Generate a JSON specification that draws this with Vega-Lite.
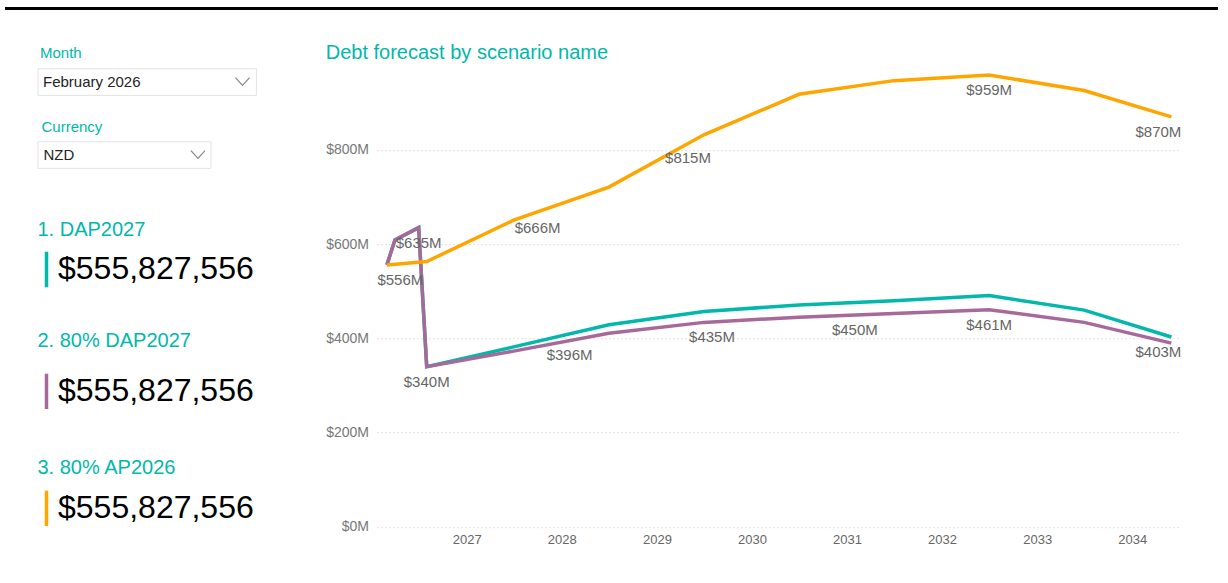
{
  "$schema": "https://vega.github.io/schema/vega-lite/v6.json",
  "padding": {"left": 5, "top": 7, "right": 5, "bottom": 5},
  "background": "white",
  "config": {
    "view": {"stroke": null},
    "font": "Liberation Sans",
    "title": {"fontWeight": "normal", "anchor": "start", "frame": "group"},
    "axis": {"minExtent": 0}
  },
  "datasets": {
    "blank": [{}],
    "lines": [
      {"series": "1. DAP2027", "date": "2026-02-28", "value": 556},
      {"series": "1. DAP2027", "date": "2026-03-31", "value": 609},
      {"series": "1. DAP2027", "date": "2026-06-30", "value": 635},
      {"series": "1. DAP2027", "date": "2026-07-31", "value": 340},
      {"series": "1. DAP2027", "date": "2027-06-30", "value": 382},
      {"series": "1. DAP2027", "date": "2028-06-30", "value": 429},
      {"series": "1. DAP2027", "date": "2029-06-30", "value": 457},
      {"series": "1. DAP2027", "date": "2030-06-30", "value": 471},
      {"series": "1. DAP2027", "date": "2031-06-30", "value": 480},
      {"series": "1. DAP2027", "date": "2032-06-30", "value": 491},
      {"series": "1. DAP2027", "date": "2033-06-30", "value": 460},
      {"series": "1. DAP2027", "date": "2034-05-31", "value": 403},
      {"series": "2. 80% DAP2027", "date": "2026-02-28", "value": 556},
      {"series": "2. 80% DAP2027", "date": "2026-03-31", "value": 609},
      {"series": "2. 80% DAP2027", "date": "2026-06-30", "value": 635},
      {"series": "2. 80% DAP2027", "date": "2026-07-31", "value": 340},
      {"series": "2. 80% DAP2027", "date": "2027-06-30", "value": 373},
      {"series": "2. 80% DAP2027", "date": "2028-06-30", "value": 411},
      {"series": "2. 80% DAP2027", "date": "2029-06-30", "value": 434},
      {"series": "2. 80% DAP2027", "date": "2030-06-30", "value": 445},
      {"series": "2. 80% DAP2027", "date": "2031-06-30", "value": 453},
      {"series": "2. 80% DAP2027", "date": "2032-06-30", "value": 461},
      {"series": "2. 80% DAP2027", "date": "2033-06-30", "value": 434},
      {"series": "2. 80% DAP2027", "date": "2034-05-31", "value": 390},
      {"series": "3. 80% AP2026", "date": "2026-02-28", "value": 556},
      {"series": "3. 80% AP2026", "date": "2026-07-31", "value": 563},
      {"series": "3. 80% AP2026", "date": "2027-06-30", "value": 651},
      {"series": "3. 80% AP2026", "date": "2028-06-30", "value": 721},
      {"series": "3. 80% AP2026", "date": "2029-06-30", "value": 832},
      {"series": "3. 80% AP2026", "date": "2030-06-30", "value": 918},
      {"series": "3. 80% AP2026", "date": "2031-06-30", "value": 947},
      {"series": "3. 80% AP2026", "date": "2032-06-30", "value": 959},
      {"series": "3. 80% AP2026", "date": "2033-06-30", "value": 926},
      {"series": "3. 80% AP2026", "date": "2034-05-31", "value": 870}
    ],
    "labels": [
      {"series": "3. 80% AP2026", "date": "2026-02-28", "value": 556, "label": "$556M"},
      {"series": "2. 80% DAP2027", "date": "2026-06-30", "value": 635, "label": "$635M"},
      {"series": "2. 80% DAP2027", "date": "2026-07-31", "value": 340, "label": "$340M"},
      {"series": "3. 80% AP2026", "date": "2027-09-30", "value": 666, "label": "$666M"},
      {"series": "2. 80% DAP2027", "date": "2028-01-31", "value": 396, "label": "$396M"},
      {"series": "3. 80% AP2026", "date": "2029-04-30", "value": 815, "label": "$815M"},
      {"series": "2. 80% DAP2027", "date": "2029-07-31", "value": 435, "label": "$435M"},
      {"series": "2. 80% DAP2027", "date": "2031-01-31", "value": 450, "label": "$450M"},
      {"series": "2. 80% DAP2027", "date": "2032-06-30", "value": 461, "label": "$461M"},
      {"series": "3. 80% AP2026", "date": "2032-06-30", "value": 959, "label": "$959M"},
      {"series": "3. 80% AP2026", "date": "2034-05-31", "value": 870, "label": "$870M"},
      {"series": "1. DAP2027", "date": "2034-05-31", "value": 403, "label": "$403M"}
    ]
  },
  "spacing": 32.2,
  "vconcat": [
    {
      "width": 1213, "height": 3,
      "view": {"fill": "#000000", "stroke": null},
      "data": {"name": "blank"},
      "mark": {"type": "point", "size": 0, "opacity": 0, "filled": true, "strokeWidth": 0}
    },
    {
      "spacing": 30.5,
      "hconcat": [
        {"width": 1, "height": 1, "data": {"name": "blank"}, "mark": {"type": "point", "size": 0, "opacity": 0, "filled": true, "strokeWidth": 0}},
        {
          "title": {"text": "Month", "fontSize": 15, "color": "#01B8AA", "offset": 7.0, "dx": 2.5},
          "spacing": 0,
          "vconcat": [
            {
              "width": 218.4, "height": 26.7,
              "view": {"stroke": "#e3e3e3", "strokeWidth": 1},
              "data": {"values": [{"part": "text", "label": "February 2026"}, {"part": "chevron", "label": ""}]},
              "encoding": {"x": {"field": "part", "type": "nominal", "scale": {"domain": ["text", "chevron"], "padding": 0.0327, "align": 0}, "axis": null}},
              "layer": [
                {"transform": [{"filter": "datum.part == 'text'"}], "mark": {"type": "text", "align": "left", "baseline": "middle", "dx": 5.5, "fontSize": 15, "color": "#252423"}, "encoding": {"text": {"field": "label"}}},
                {"transform": [{"filter": "datum.part == 'chevron'"}], "mark": {"type": "point", "shape": "M-1,-0.55L0,0.55L1,-0.55", "filled": false, "size": 196, "color": "#555555", "strokeWidth": 1.2}}
              ]
            },
            {"width": 1, "height": 21.75, "data": {"name": "blank"}, "mark": {"type": "point", "size": 0, "opacity": 0, "filled": true, "strokeWidth": 0}},
            {
              "title": {"text": "Currency", "fontSize": 15, "color": "#01B8AA", "offset": 6.6, "dx": 4},
              "width": 173, "height": 26.7,
              "view": {"stroke": "#e3e3e3", "strokeWidth": 1},
              "data": {"values": [{"part": "text", "label": "NZD"}, {"part": "chevron", "label": ""}]},
              "encoding": {"x": {"field": "part", "type": "nominal", "scale": {"domain": ["text", "chevron"], "padding": 0.039, "align": 0}, "axis": null}},
              "layer": [
                {"transform": [{"filter": "datum.part == 'text'"}], "mark": {"type": "text", "align": "left", "baseline": "middle", "dx": 6, "fontSize": 15, "color": "#252423"}, "encoding": {"text": {"field": "label"}}},
                {"transform": [{"filter": "datum.part == 'chevron'"}], "mark": {"type": "point", "shape": "M-1,-0.55L0,0.55L1,-0.55", "filled": false, "size": 196, "color": "#555555", "strokeWidth": 1.2}}
              ]
            },
            {"width": 1, "height": 50.5, "data": {"name": "blank"}, "mark": {"type": "point", "size": 0, "opacity": 0, "filled": true, "strokeWidth": 0}},
            {
              "title": {"text": "1. DAP2027", "fontSize": 20, "color": "#01B8AA", "offset": 11.0},
              "width": 256.2, "height": 35.6,
              "data": {"values": [{"scenario": "1. DAP2027", "amount": "$555,827,556"}]},
              "mark": {"type": "text", "align": "left", "baseline": "middle", "dx": 20.5, "fontSize": 32, "color": "#000000"},
              "encoding": {
                "x": {"field": "scenario", "type": "nominal", "scale": {"padding": 0, "align": 0}, "axis": null},
                "y": {"field": "scenario", "type": "nominal", "axis": {"domainColor": "#01B8AA", "domainWidth": 3.5, "labels": false, "ticks": false, "title": null, "grid": false, "offset": -8.5, "minExtent": 0}},
                "text": {"field": "amount"}
              }
            },
            {"width": 1, "height": 43.6, "data": {"name": "blank"}, "mark": {"type": "point", "size": 0, "opacity": 0, "filled": true, "strokeWidth": 0}},
            {
              "title": {"text": "2. 80% DAP2027", "fontSize": 20, "color": "#01B8AA", "offset": 22.0},
              "width": 256.2, "height": 35.3,
              "data": {"values": [{"scenario": "2. 80% DAP2027", "amount": "$555,827,556"}]},
              "mark": {"type": "text", "align": "left", "baseline": "middle", "dx": 20.5, "fontSize": 32, "color": "#000000"},
              "encoding": {
                "x": {"field": "scenario", "type": "nominal", "scale": {"padding": 0, "align": 0}, "axis": null},
                "y": {"field": "scenario", "type": "nominal", "axis": {"domainColor": "#A66999", "domainWidth": 3.5, "labels": false, "ticks": false, "title": null, "grid": false, "offset": -8.5, "minExtent": 0}},
                "text": {"field": "amount"}
              }
            },
            {"width": 1, "height": 47.1, "data": {"name": "blank"}, "mark": {"type": "point", "size": 0, "opacity": 0, "filled": true, "strokeWidth": 0}},
            {
              "title": {"text": "3. 80% AP2026", "fontSize": 20, "color": "#01B8AA", "offset": 12.5},
              "width": 256.2, "height": 35.3,
              "data": {"values": [{"scenario": "3. 80% AP2026", "amount": "$555,827,556"}]},
              "mark": {"type": "text", "align": "left", "baseline": "middle", "dx": 20.5, "fontSize": 32, "color": "#000000"},
              "encoding": {
                "x": {"field": "scenario", "type": "nominal", "scale": {"padding": 0, "align": 0}, "axis": null},
                "y": {"field": "scenario", "type": "nominal", "axis": {"domainColor": "#FFA500", "domainWidth": 3.5, "labels": false, "ticks": false, "title": null, "grid": false, "offset": -8.5, "minExtent": 0}},
                "text": {"field": "amount"}
              }
            }
          ]
        },
        {
          "title": {"text": "Debt forecast by scenario name", "fontSize": 20, "color": "#01B8AA", "frame": "bounds", "anchor": "start", "offset": 4.8},
          "width": 804, "height": 458.7,
          "encoding": {
            "x": {
              "field": "date", "type": "temporal",
              "scale": {"domain": [{"year": 2026, "month": 1, "date": 21}, {"year": 2034, "month": 7, "date": 7}]},
              "axis": {
                "values": [
                  {"year": 2027, "month": 1, "date": 1}, {"year": 2028, "month": 1, "date": 1},
                  {"year": 2029, "month": 1, "date": 1}, {"year": 2030, "month": 1, "date": 1},
                  {"year": 2031, "month": 1, "date": 1}, {"year": 2032, "month": 1, "date": 1},
                  {"year": 2033, "month": 1, "date": 1}, {"year": 2034, "month": 1, "date": 1}
                ],
                "format": "%Y", "grid": false, "domain": false, "ticks": false, "tickSize": 0,
                "labelPadding": 7, "labelFontSize": 13, "labelColor": "#666666", "title": null, "labelOverlap": false, "labelFlush": false
              }
            },
            "y": {
              "field": "value", "type": "quantitative",
              "scale": {"domain": [0, 973.4], "nice": false, "zero": true},
              "axis": {
                "values": [0, 200, 400, 600, 800],
                "labelExpr": "'$' + datum.value + 'M'",
                "grid": true, "gridDash": [1, 3], "gridColor": "#c8c8c8", "gridWidth": 1,
                "domain": false, "ticks": false, "tickSize": 0, "labelPadding": 8.5,
                "labelFontSize": 14, "labelColor": "#777777", "title": null
              }
            }
          },
          "layer": [
            {
              "data": {"name": "lines"},
              "mark": {"type": "line", "strokeWidth": 3.5},
              "encoding": {
                "color": {
                  "field": "series", "type": "nominal",
                  "scale": {"domain": ["1. DAP2027", "2. 80% DAP2027", "3. 80% AP2026"], "range": ["#01B8AA", "#A66999", "#FFA500"]},
                  "legend": null
                }
              }
            },
            {
              "data": {"name": "labels"},
              "transform": [{"filter": "!(utcyear(datum.date) == 2026 && utcmonth(datum.date) == 1) && utcyear(datum.date) != 2034"}],
              "mark": {"type": "text", "align": "center", "baseline": "middle", "dy": 15, "fontSize": 15, "color": "#666666"},
              "encoding": {"text": {"field": "label"}}
            },
            {
              "data": {"name": "labels"},
              "transform": [{"filter": "utcyear(datum.date) == 2026 && utcmonth(datum.date) == 1"}],
              "mark": {"type": "text", "align": "left", "baseline": "middle", "dx": -9.5, "dy": 15, "fontSize": 15, "color": "#666666"},
              "encoding": {"text": {"field": "label"}}
            },
            {
              "data": {"name": "labels"},
              "transform": [{"filter": "utcyear(datum.date) == 2034"}],
              "mark": {"type": "text", "align": "right", "baseline": "middle", "dx": 10, "dy": 15, "fontSize": 15, "color": "#666666"},
              "encoding": {"text": {"field": "label"}}
            }
          ]
        }
      ]
    }
  ]
}
